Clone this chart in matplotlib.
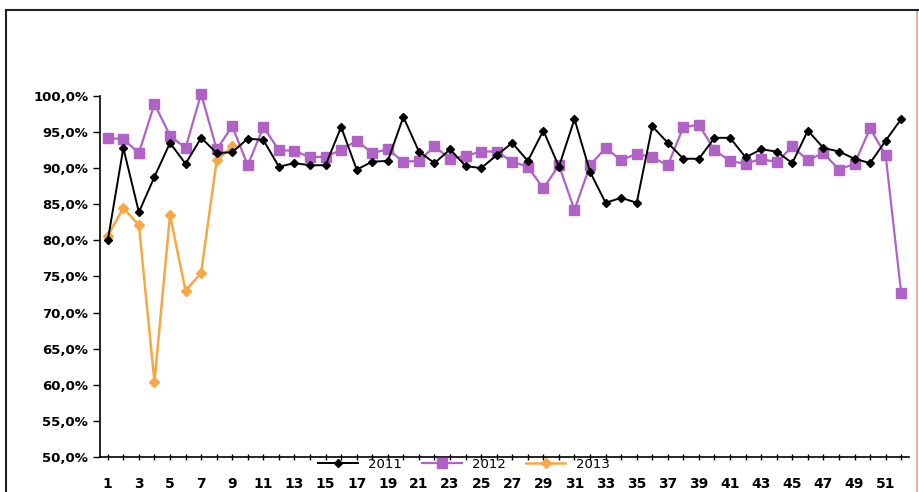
import numpy as np
import matplotlib
matplotlib.use('Agg')
import matplotlib.pyplot as plt
from matplotlib.patches import Rectangle

weeks = np.arange(1, 53)

y2011 = [80.0, 92.8, 83.9, 88.8, 93.5, 90.6, 94.2, 92.1, 92.2, 94.1,
         93.9, 90.2, 90.7, 90.4, 90.4, 95.7, 89.8, 90.9, 91.0, 97.1,
         92.3, 90.7, 92.6, 90.3, 90.0, 91.8, 93.5, 91.0, 95.2, 90.2,
         96.8, 89.5, 85.2, 85.9, 85.2, 95.8, 93.5, 91.3, 91.3, 94.2,
         94.2, 91.5, 92.6, 92.3, 90.7, 95.2, 92.8, 92.3, 91.3, 90.7,
         93.8, 96.8]
y2012 = [94.2, 94.0, 92.1, 98.9, 94.5, 92.8, 100.3, 92.6, 95.8, 90.4,
         95.7, 92.5, 92.4, 91.5, 91.6, 92.5, 93.8, 92.1, 92.6, 90.9,
         91.0, 93.0, 91.3, 91.7, 92.3, 92.3, 90.9, 90.2, 87.2, 90.4,
         84.2, 90.4, 92.8, 91.1, 92.0, 91.5, 90.4, 95.7, 96.0, 92.5,
         91.0, 90.6, 91.3, 90.8, 93.0, 91.1, 92.1, 89.8, 90.6, 95.5,
         91.8, 72.7]
y2013 = [80.6, 84.5, 82.1, 60.4, 83.5, 73.0, 75.5, 91.1, 93.0]

yticks = np.arange(50, 101, 5)
series_names = ['2011', '2012', '2013']

fig = plt.figure(figsize=(9.2, 4.92), dpi=100)
fig.patch.set_facecolor('white')

# outer frame
fig.patches.append(Rectangle((0.007, -0.01), 0.99, 0.99, transform=fig.transFigure,
                             fill=False, edgecolor='#F2A27A', linewidth=1.2))
fig.add_artist(plt.Line2D([0.006, 0.006], [0.0, 0.98], transform=fig.transFigure,
                          color='#222222', linewidth=1.5))
fig.add_artist(plt.Line2D([0.006, 1.0], [0.98, 0.98], transform=fig.transFigure,
                          color='#222222', linewidth=1.5))

ax = fig.add_axes([0.1087, 0.0711, 0.8793, 0.7339])

ax.plot(weeks, y2011, color='black', lw=1.4, marker='D', ms=4.5,
        label=series_names[0], clip_on=False, zorder=4)
ax.plot(weeks, y2012, color='#B062C6', lw=1.6, marker='s', ms=6.5,
        label=series_names[1], clip_on=False, zorder=3)
ax.plot(weeks[:len(y2013)], y2013, color='#F5A844', lw=1.8, marker='D', ms=5,
        label=series_names[2], clip_on=False, zorder=2)

ax.set_xlim(0.5, 52.5)
ax.set_ylim(50, 100)
ax.set_yticks(yticks)
ax.set_yticklabels([('%.1f%%' % v).replace('.', ',') for v in yticks],
                   fontweight='bold', fontsize=9.5)
ax.set_xticks(weeks)
ax.set_xticklabels([str(w) if w % 2 == 1 else '' for w in weeks],
                   fontweight='bold', fontsize=10)
ax.tick_params(axis='x', length=5, width=1, pad=12, direction='inout')
ax.tick_params(axis='y', length=5, width=1, direction='out')

for s in ['top', 'right']:
    ax.spines[s].set_visible(False)
ax.spines['left'].set_linewidth(1.2)
ax.spines['bottom'].set_linewidth(1.2)

ax.legend(loc='center', bbox_to_anchor=(0.45, -0.02), ncol=3, frameon=False,
          fontsize=9.5, handlelength=3, columnspacing=1.5, borderaxespad=0)

fig.savefig('out.png', dpi=100)
